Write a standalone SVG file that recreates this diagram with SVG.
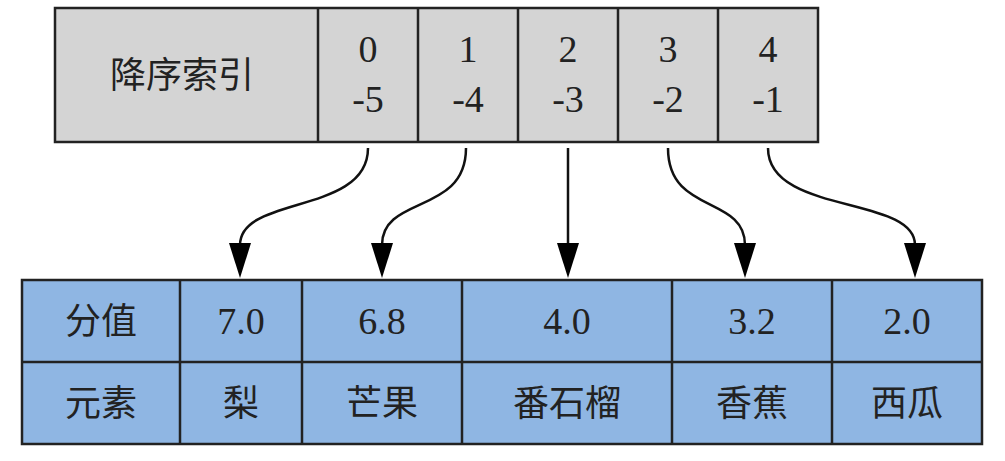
<svg xmlns="http://www.w3.org/2000/svg" width="1005" height="461" viewBox="0 0 1005 461">
<defs>
<style>
.top{fill:#d4d4d4;stroke:#222;stroke-width:2.5}
.bot{fill:#8fb6e3;stroke:#222;stroke-width:2.5}
.ln{stroke:#222;stroke-width:2.5}
text{font-family:"Liberation Serif","Noto Sans CJK SC",serif;font-size:38px;fill:#222;text-anchor:middle}
.cj{font-family:"Noto Sans CJK SC",sans-serif;font-size:36px}
.c{fill:none;stroke:#111;stroke-width:2.5}
</style>
</defs>
<rect width="1005" height="461" fill="#fff"/>
<g id="index">
<rect class="top" x="55" y="8" width="763" height="134"/>
<line class="ln" x1="318" y1="8" x2="318" y2="142"/>
<line class="ln" x1="418" y1="8" x2="418" y2="142"/>
<line class="ln" x1="518" y1="8" x2="518" y2="142"/>
<line class="ln" x1="618" y1="8" x2="618" y2="142"/>
<line class="ln" x1="718" y1="8" x2="718" y2="142"/>
<text class="cj" x="182" y="88">降序索引</text>
<text x="368" y="62">0</text><text x="368" y="112">-5</text>
<text x="468" y="62">1</text><text x="468" y="112">-4</text>
<text x="568" y="62">2</text><text x="568" y="112">-3</text>
<text x="668" y="62">3</text><text x="668" y="112">-2</text>
<text x="768" y="62">4</text><text x="768" y="112">-1</text>
</g>
<g id="data">
<rect class="bot" x="22" y="280" width="960" height="164"/>
<line class="ln" x1="22" y1="362" x2="982" y2="362"/>
<line class="ln" x1="180" y1="280" x2="180" y2="444"/>
<line class="ln" x1="302" y1="280" x2="302" y2="444"/>
<line class="ln" x1="462" y1="280" x2="462" y2="444"/>
<line class="ln" x1="672" y1="280" x2="672" y2="444"/>
<line class="ln" x1="832" y1="280" x2="832" y2="444"/>
<text class="cj" x="101" y="334">分值</text>
<text x="241" y="334">7.0</text>
<text x="382" y="334">6.8</text>
<text x="567" y="334">4.0</text>
<text x="752" y="334">3.2</text>
<text x="907" y="334">2.0</text>
<text class="cj" x="101" y="416">元素</text>
<text class="cj" x="241" y="416">梨</text>
<text class="cj" x="382" y="416">芒果</text>
<text class="cj" x="567" y="416">番石榴</text>
<text class="cj" x="752" y="416">香蕉</text>
<text class="cj" x="907" y="416">西瓜</text>
</g>
<g id="connectors">
<path class="c" d="M368,148 C368,215 240,195 240,245"/>
<path class="c" d="M466,148 C466,215 382,195 382,245"/>
<path class="c" d="M568,148 L568,245"/>
<path class="c" d="M668,148 C668,215 745,195 745,245"/>
<path class="c" d="M768,148 C768,215 915,195 915,245"/>
<path d="M229,243L251,243L240,278z" fill="#000"/>
<path d="M371,243L393,243L382,278z" fill="#000"/>
<path d="M557,243L579,243L568,278z" fill="#000"/>
<path d="M734,243L756,243L745,278z" fill="#000"/>
<path d="M904,243L926,243L915,278z" fill="#000"/>
</g>
</svg>
